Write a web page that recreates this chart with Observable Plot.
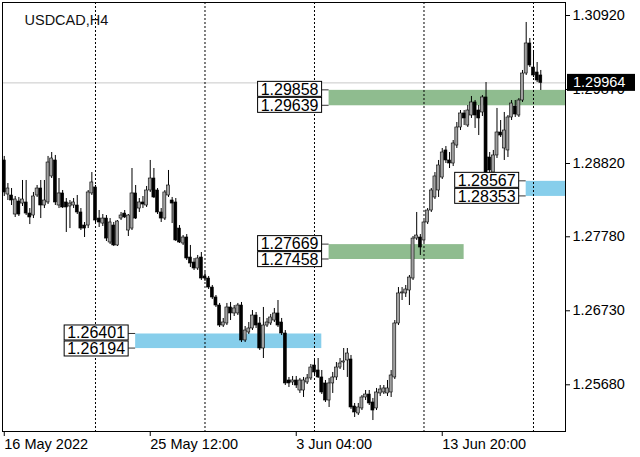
<!DOCTYPE html>
<html><head><meta charset="utf-8">
<script src="https://cdn.jsdelivr.net/npm/d3@7"></script>
<script src="https://cdn.jsdelivr.net/npm/@observablehq/plot@0.6"></script>
<style>
html,body{margin:0;padding:0;background:#fff;overflow:hidden;}
svg{display:block;}
</style></head><body><div id="chart"></div>
<script>
const symbol = "USDCAD,H4";
// H4 candles, bar index 0..147
const open = [1.28863,1.28380,1.28366,1.28096,1.28281,1.28252,1.28267,1.28110,1.28082,1.28366,
1.28465,1.28224,1.28267,1.28636,1.28863,1.28224,1.28395,1.28267,1.28210,1.28224,
1.28224,1.28125,1.27940,1.27940,1.28395,1.28480,1.28039,1.27968,1.28039,1.27699,
1.27940,1.27657,1.28039,1.28110,1.27869,1.27897,1.28395,1.28181,1.28267,1.28224,
1.28437,1.28607,1.28437,1.28125,1.28039,1.28366,1.28295,1.28267,1.27897,1.27685,
1.27770,1.27486,1.27415,1.27330,1.27486,1.27217,1.27188,1.27060,1.26919,1.26805,
1.26521,1.26550,1.26777,1.26692,1.26692,1.26805,1.26309,1.26422,1.26479,1.26663,
1.26550,1.26195,1.26521,1.26550,1.26592,1.26692,1.26564,1.26408,1.25741,1.25713,
1.25741,1.25599,1.25599,1.25713,1.25770,1.25954,1.25883,1.25784,1.25699,1.25457,
1.25699,1.25784,1.25925,1.25996,1.26025,1.26039,1.25372,1.25273,1.25344,1.25500,
1.25542,1.25429,1.25344,1.25557,1.25571,1.25557,1.25571,1.25784,1.26550,1.26976,
1.26976,1.27018,1.27188,1.27755,1.27770,1.27728,1.27983,1.28153,1.28338,1.28437,
1.28621,1.29005,1.28863,1.28820,1.29075,1.29331,1.29530,1.29359,1.29501,1.29686,
1.29572,1.29544,1.29757,1.28905,1.28692,1.28934,1.29260,1.29033,1.29005,1.29473,
1.29629,1.29501,1.29714,1.30097,1.30523,1.30182,1.30111,1.30069];
const high = [1.28920,1.28536,1.28465,1.28352,1.28338,1.28579,1.28579,1.28181,1.28409,1.28508,
1.28579,1.28579,1.28920,1.28976,1.28934,1.28607,1.28437,1.28323,1.28295,1.28323,
1.28366,1.28181,1.27983,1.28437,1.28692,1.28508,1.28153,1.28096,1.28082,1.28039,
1.27983,1.28011,1.28125,1.28153,1.28096,1.28749,1.28508,1.28323,1.28352,1.28494,
1.28863,1.28749,1.28465,1.28181,1.28437,1.28721,1.28338,1.28323,1.27940,1.27798,
1.27812,1.27657,1.27472,1.27515,1.27557,1.27273,1.27217,1.27089,1.26947,1.26834,
1.26621,1.26834,1.26848,1.26805,1.26834,1.26848,1.26507,1.26564,1.26734,1.26706,
1.26635,1.26777,1.26621,1.26678,1.26763,1.26876,1.26621,1.26450,1.25784,1.25798,
1.25798,1.25770,1.25784,1.25826,1.25968,1.26025,1.26053,1.25883,1.25741,1.25770,
1.25855,1.25996,1.26053,1.26195,1.26195,1.26096,1.25415,1.25415,1.25528,1.25599,
1.25599,1.25486,1.25628,1.25670,1.25670,1.25741,1.25883,1.26592,1.27060,1.27060,
1.27089,1.27231,1.27784,1.28125,1.27812,1.28011,1.28181,1.28465,1.28692,1.28863,
1.29033,1.29061,1.28976,1.29146,1.29402,1.29572,1.29572,1.29643,1.29771,1.29714,
1.29643,1.29785,1.29969,1.28976,1.29005,1.29601,1.29430,1.29544,1.29501,1.29714,
1.29714,1.29742,1.30140,1.30821,1.30594,1.30424,1.30253,1.30140];
const low = [1.28352,1.28295,1.28224,1.28054,1.28068,1.28210,1.28082,1.27954,1.28039,1.28338,
1.28039,1.28181,1.28238,1.28607,1.28224,1.28181,1.28181,1.27841,1.27897,1.28181,
1.28096,1.27869,1.27770,1.27897,1.28366,1.27983,1.27912,1.27926,1.27713,1.27671,
1.27642,1.27642,1.28011,1.28039,1.27784,1.27869,1.28025,1.28125,1.28181,1.28196,
1.28409,1.28323,1.28096,1.27983,1.28011,1.28338,1.27968,1.27713,1.27685,1.27657,
1.27444,1.27344,1.27302,1.27302,1.27160,1.27146,1.27032,1.26891,1.26777,1.26493,
1.26493,1.26521,1.26592,1.26649,1.26663,1.26280,1.26280,1.26394,1.26450,1.26479,
1.26167,1.26053,1.26493,1.26521,1.26564,1.26493,1.26379,1.25670,1.25642,1.25670,
1.25628,1.25557,1.25500,1.25684,1.25741,1.25826,1.25770,1.25542,1.25429,1.25358,
1.25557,1.25741,1.25897,1.25883,1.25784,1.25330,1.25216,1.25244,1.25315,1.25457,
1.25386,1.25173,1.25315,1.25514,1.25542,1.25514,1.25500,1.25755,1.26521,1.26876,
1.26919,1.26805,1.27160,1.27728,1.27515,1.27699,1.27954,1.28125,1.28309,1.28338,
1.28593,1.28820,1.28749,1.28777,1.29033,1.29288,1.29359,1.29331,1.29459,1.29317,
1.29217,1.29487,1.28636,1.28664,1.28636,1.28891,1.29189,1.28863,1.28905,1.29430,
1.29473,1.29473,1.29686,1.30069,1.30182,1.30040,1.29969,1.29856];
const close = [1.28409,1.28465,1.28295,1.28309,1.28096,1.28309,1.28110,1.28054,1.28352,1.28465,
1.28224,1.28295,1.28834,1.28891,1.28267,1.28395,1.28196,1.28196,1.28252,1.28267,
1.28125,1.27897,1.27897,1.28409,1.28551,1.28011,1.27983,1.28039,1.27755,1.27983,
1.27657,1.27997,1.28082,1.28054,1.28082,1.28395,1.28039,1.28267,1.28238,1.28437,
1.28607,1.28338,1.28125,1.28039,1.28409,1.28508,1.28252,1.27728,1.27699,1.27770,
1.27472,1.27401,1.27330,1.27472,1.27188,1.27188,1.27060,1.26919,1.26805,1.26521,
1.26564,1.26777,1.26692,1.26763,1.26805,1.26309,1.26450,1.26479,1.26663,1.26521,
1.26195,1.26521,1.26564,1.26635,1.26692,1.26521,1.26408,1.25699,1.25699,1.25741,
1.25670,1.25741,1.25741,1.25770,1.25925,1.25855,1.25784,1.25571,1.25457,1.25699,
1.25784,1.25925,1.25982,1.26011,1.26124,1.25358,1.25287,1.25358,1.25500,1.25542,
1.25415,1.25315,1.25571,1.25613,1.25628,1.25628,1.25812,1.26550,1.26976,1.26990,
1.27032,1.27202,1.27755,1.27798,1.27628,1.27983,1.28153,1.28437,1.28636,1.28792,
1.28976,1.28863,1.28820,1.29104,1.29331,1.29530,1.29459,1.29572,1.29686,1.29501,
1.29459,1.29757,1.28692,1.28721,1.28934,1.29260,1.29217,1.29288,1.29473,1.29671,
1.29515,1.29714,1.30097,1.30523,1.30211,1.30069,1.29998,1.29964];

const yTicks = [1.30920, 1.29870, 1.28820, 1.27780, 1.26730, 1.25680];
const xTickBars = [0, 40, 80, 120];
const xTickLabels = ["16 May 2022", "25 May 12:00", "3 Jun 04:00", "13 Jun 20:00"];
const weekStartBars = [25, 55, 85, 115, 145];
const zoneTop = [1.29858, 1.28567, 1.27669, 1.26401];
const zoneBottom = [1.29639, 1.28353, 1.27458, 1.26194];
const zoneStartBar = [89, 143, 89, 36];
const zoneEndBar = [null, null, 126, 87]; // null: extends to the right edge
const zoneColor = ["#8fbc8f", "#87ceeb", "#8fbc8f", "#87ceeb"];
const bid = 1.29964;

const xDomain = [-0.48, 153.77];
const yDomain = [1.250173, 1.311045];

const candles = open.map((o, i) => ({i, o, h: high[i], l: low[i], c: close[i]}));
const zones = zoneTop.map((t, k) => ({
  top: t, bottom: zoneBottom[k], start: zoneStartBar[k],
  end: zoneEndBar[k] == null ? xDomain[1] : zoneEndBar[k], color: zoneColor[k]
}));

const FONT = "Liberation Sans, Arial, sans-serif";

function overlay(index, scales, values, dims) {
  const g = d3.create("svg:g").attr("font-family", FONT);
  for (const z of zones) {
    const xs = scales.x(z.start);
    const yT = scales.y(z.top), yB = scales.y(z.bottom);
    const right = xs - 7, left = right - 64;
    const items = [{by: yT - 8.5, ly: yT, v: z.top}, {by: yT + 7.5, ly: yB, v: z.bottom}];
    for (const it of items) {
      g.append("line").attr("x1", right).attr("x2", xs).attr("y1", it.ly).attr("y2", it.ly)
        .attr("stroke", "#333").attr("stroke-width", 1);
      g.append("rect").attr("x", left).attr("y", it.by).attr("width", 64).attr("height", 15)
        .attr("fill", "white").attr("stroke", "black").attr("stroke-width", 1);
      g.append("text").attr("x", left + 32).attr("y", it.by + 8).attr("text-anchor", "middle")
        .attr("dominant-baseline", "central").attr("font-size", 16).attr("fill", "black")
        .text(it.v.toFixed(5));
    }
  }
  const fr = dims.width - dims.marginRight;
  const yb = scales.y(bid);
  g.append("rect").attr("x", fr + 2).attr("y", yb - 8.5).attr("width", 68).attr("height", 17).attr("fill", "black");
  g.append("text").attr("x", fr + 8).attr("y", yb).attr("dominant-baseline", "central")
    .attr("text-anchor", "start")
    .attr("font-size", 14.5).attr("fill", "white").text(bid.toFixed(5));
  return g.node();
}

const plot = Plot.plot({
  width: 640, height: 457,
  marginTop: 2, marginBottom: 26, marginLeft: 2, marginRight: 75,
  style: {fontFamily: FONT, fontSize: "14.5px", background: "white", color: "black"},
  x: {type: "linear", domain: xDomain, axis: null},
  y: {domain: yDomain, axis: null},
  marks: [
    Plot.rect(zones, {x1: "start", x2: "end", y1: "bottom", y2: "top", fill: d => d.color}),
    Plot.ruleY([bid], {stroke: "#c8c8c8", strokeWidth: 1}),
    Plot.ruleX(weekStartBars, {stroke: "black", strokeDasharray: "2,2", strokeWidth: 1}),
    Plot.ruleX(candles, {x: "i", y1: "l", y2: "h", stroke: "black", strokeWidth: 1}),
    Plot.rect(candles.filter(d => d.c >= d.o), {x1: d => d.i - 0.41, x2: d => d.i + 0.41, y1: "o", y2: "c", fill: "#a0a0a0", stroke: "black", strokeWidth: 0.6}),
    Plot.rect(candles.filter(d => d.c < d.o), {x1: d => d.i - 0.41, x2: d => d.i + 0.41, y1: "o", y2: "c", fill: "black", stroke: "black", strokeWidth: 0.6}),
    Plot.frame({stroke: "black"}),
    Plot.axisY(yTicks, {anchor: "right", tickSize: 4, tickPadding: 3, tickFormat: d => d.toFixed(5), fontSize: 14.5}),
    Plot.axisX(xTickBars, {anchor: "bottom", tickSize: 5, tickPadding: 2, textAnchor: "start", fontSize: 14.5,
      tickFormat: d => xTickLabels[xTickBars.indexOf(d)]}),
    Plot.text([symbol], {frameAnchor: "top-left", dx: 22, dy: 12, textAnchor: "start", fontSize: 14.5, fill: "#111"}),
    overlay
  ]
});
document.getElementById("chart").appendChild(plot);
</script>
</body></html>
